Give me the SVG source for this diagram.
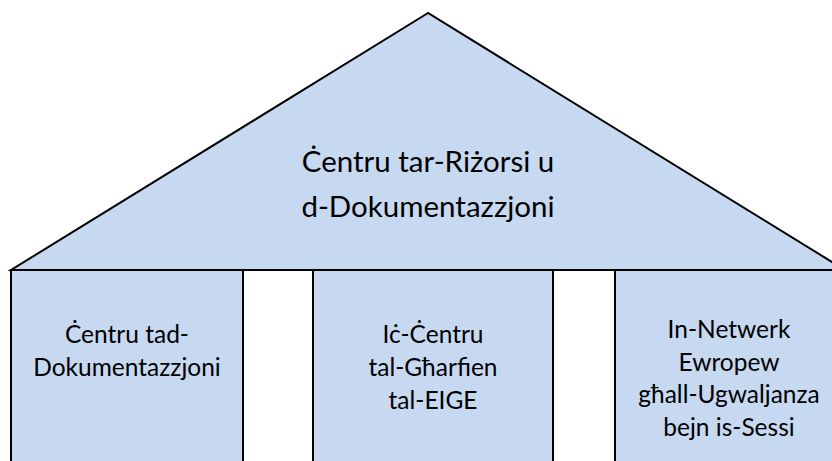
<svg xmlns="http://www.w3.org/2000/svg" width="832" height="461" viewBox="0 0 832 461">
<style>
.s{fill:#c6d9f1;stroke:#000;stroke-width:2;stroke-linejoin:miter}
text{font-family:Lato,"Noto Sans",sans-serif;fill:#000;text-anchor:middle}
.b{font-size:24.5px}
.t{font-size:29.5px}
</style>
<rect width="832" height="461" fill="#fff"/>
<g id="col1"><rect class="s" x="11" y="270" width="232" height="200"/>
<text class="b" x="127" y="343">Ċentru tad-</text><text class="b" x="127" y="376">Dokumentazzjoni</text></g>
<g id="col2"><rect class="s" x="313" y="270" width="240" height="200"/>
<text class="b" x="433" y="343">Iċ-Ċentru</text><text class="b" x="433" y="376">tal-Għarfien</text><text class="b" x="433" y="409">tal-EIGE</text></g>
<g id="col3"><rect class="s" x="615" y="270" width="230" height="200"/>
<text class="b" x="729" y="338">In-Netwerk</text><text class="b" x="729" y="371">Ewropew</text><text class="b" x="729" y="403">għall-Ugwaljanza</text><text class="b" x="729" y="436">bejn is-Sessi</text></g>
<g id="roof"><polygon class="s" points="428,13 11,270 845,270"/>
<text class="t" x="428" y="172">Ċentru tar-Riżorsi u</text><text class="t" x="428" y="217">d-Dokumentazzjoni</text></g>
</svg>
